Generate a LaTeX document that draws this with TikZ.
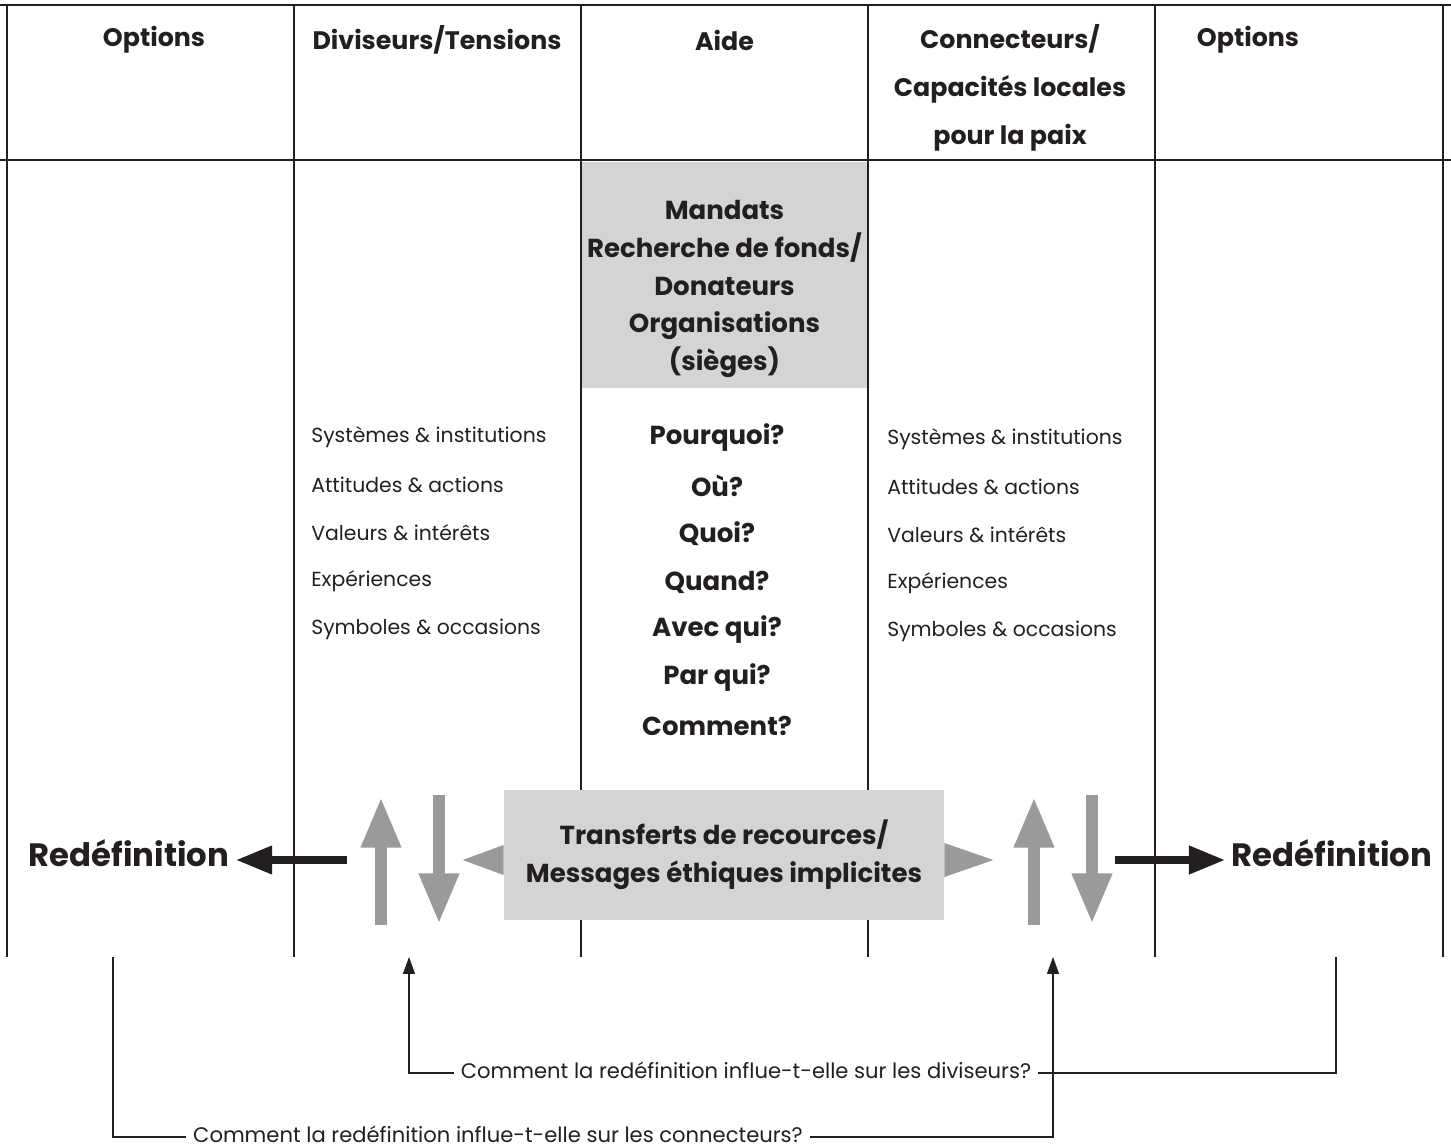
\documentclass[tikz,border=0pt]{standalone}
\usepackage{fontspec}
\setmainfont{Poppins}
\usepackage{tikz}
\usetikzlibrary{arrows.meta}

\definecolor{inkblack}{HTML}{231F20}
\definecolor{boxgrey}{HTML}{D4D4D4}
\definecolor{arrowgrey}{HTML}{9A9A9A}

\tikzset{
  rule/.style={draw=inkblack, line width=1pt},
  head/.style={font=\fontsize{18}{34}\selectfont\bfseries, text=inkblack, align=center},
  item/.style={font=\fontsize{14.5}{16}\selectfont, text=inkblack, anchor=west, inner sep=0pt},
  question/.style={font=\fontsize{18.5}{20}\selectfont\bfseries, text=inkblack, inner sep=0pt},
  redef/.style={font=\fontsize{23}{26}\selectfont\bfseries, text=inkblack},
  updown/.style={draw=arrowgrey, line width=8.5pt, -{Triangle[width=26.5pt,length=36pt]}},
  outarrow/.style={draw=inkblack, line width=5.7pt, -{Triangle[width=19pt,length=26pt]}},
  link/.style={draw=inkblack, line width=0.8pt},
  ask/.style={font=\fontsize{15}{16}\selectfont, text=inkblack, inner xsep=5pt, inner ysep=0pt,
    text height=8.2pt, text depth=0pt}
}

\begin{document}
\begin{tikzpicture}[x=0.025cm, y=-0.025cm]
  \useasboundingbox (0,0) rectangle (1451,1148);

  % grid
  \fill[boxgrey] (581,162) rectangle (868,388);
  \draw[rule, line width=1.4pt] (0,5) -- (1451,5);
  \draw[rule, line width=1.4pt] (0,160) -- (1451,160);
  \foreach \x in {7,294,581,868,1155,1443}
    \draw[rule] (\x,5) -- (\x,957);

  % column heads
  \node[head] (opt-l) at (154,40) {Options};
  \node[head] (div) at (437,40) {Diviseurs/Tensions};
  \node[head] (aide) at (724.5,40) {Aide};
  \node[head] (con) at (1010,88) {Connecteurs/\\Capacités locales\\pour la paix};
  \node[head] (opt-r) at (1248,40) {Options};

  \node[head, font=\fontsize{18.5}{26.7}\selectfont\bfseries] (mandats) at (724.5,289)
    {Mandats\\Recherche de fonds/\\Donateurs\\Organisations\\(sièges)};

  % lists
  \foreach \t [count=\i] in {Systèmes \& institutions, Attitudes \& actions,
      Valeurs \& intérêts, Expériences, Symboles \& occasions} {
    \node[item] (div-\i) at (311,{437+48*(\i-1)}) {\t};
    \node[item] (con-\i) at (887,{439+48*(\i-1)}) {\t};
  }
  \foreach \t [count=\i] in {Pourquoi?, Où?, Quoi?, Quand?, Avec qui?, Par qui?, Comment?}
    \node[question] (q-\i) at (717,{438+48*(\i-1)}) {\t};

  % transfer box and arrows
  \node[head, fill=boxgrey, minimum width=11cm, minimum height=3.25cm, inner sep=0pt,
    font=\fontsize{18.5}{27}\selectfont\bfseries] (transfer) at (724,855)
    {Transferts de recources/\\Messages éthiques implicites};
  \fill[arrowgrey] (transfer.west) ++(0,-10) -- ++(-41,15) -- ++(41,15) -- cycle;
  \fill[arrowgrey] (transfer.east) ++(0,-12) -- ++(49,17) -- ++(-49,17) -- cycle;
  \foreach \x in {381,1034} {
    \draw[updown] (\x,925) -- (\x,797);
    \draw[updown] (\x+58,795) -- (\x+58,924);
  }

  % redefinition
  \node[redef] (redef-l) at (129,853) {Redéfinition};
  \node[redef] (redef-r) at (1332,853) {Redéfinition};
  \coordinate (stem-l) at (347,860);
  \coordinate (stem-r) at (1115,860);
  \draw[outarrow, shorten >=1pt] (stem-l) -- (stem-l -| redef-l.east);
  \draw[outarrow, shorten >=1pt] (stem-r) -- (stem-r -| redef-r.west);

  % feedback questions
  \coordinate (foot-l) at (113,957);
  \coordinate (foot-r) at (1336,957);
  \coordinate (in-div) at (409,957);
  \coordinate (in-con) at (1053,957);
  \node[ask] (ask-div) at (746,1073) {Comment la redéfinition influe-t-elle sur les diviseurs?};
  \node[ask] (ask-con) at (498,1137) {Comment la redéfinition influe-t-elle sur les connecteurs?};
  \draw[link] (foot-r) |- (ask-div.east);
  \draw[link, -{Triangle[width=8.5pt,length=12pt]}] (ask-div.west) -| (in-div);
  \draw[link] (foot-l) |- (ask-con.west);
  \draw[link, -{Triangle[width=8.5pt,length=12pt]}] (ask-con.east) -| (in-con);
\end{tikzpicture}
\end{document}
